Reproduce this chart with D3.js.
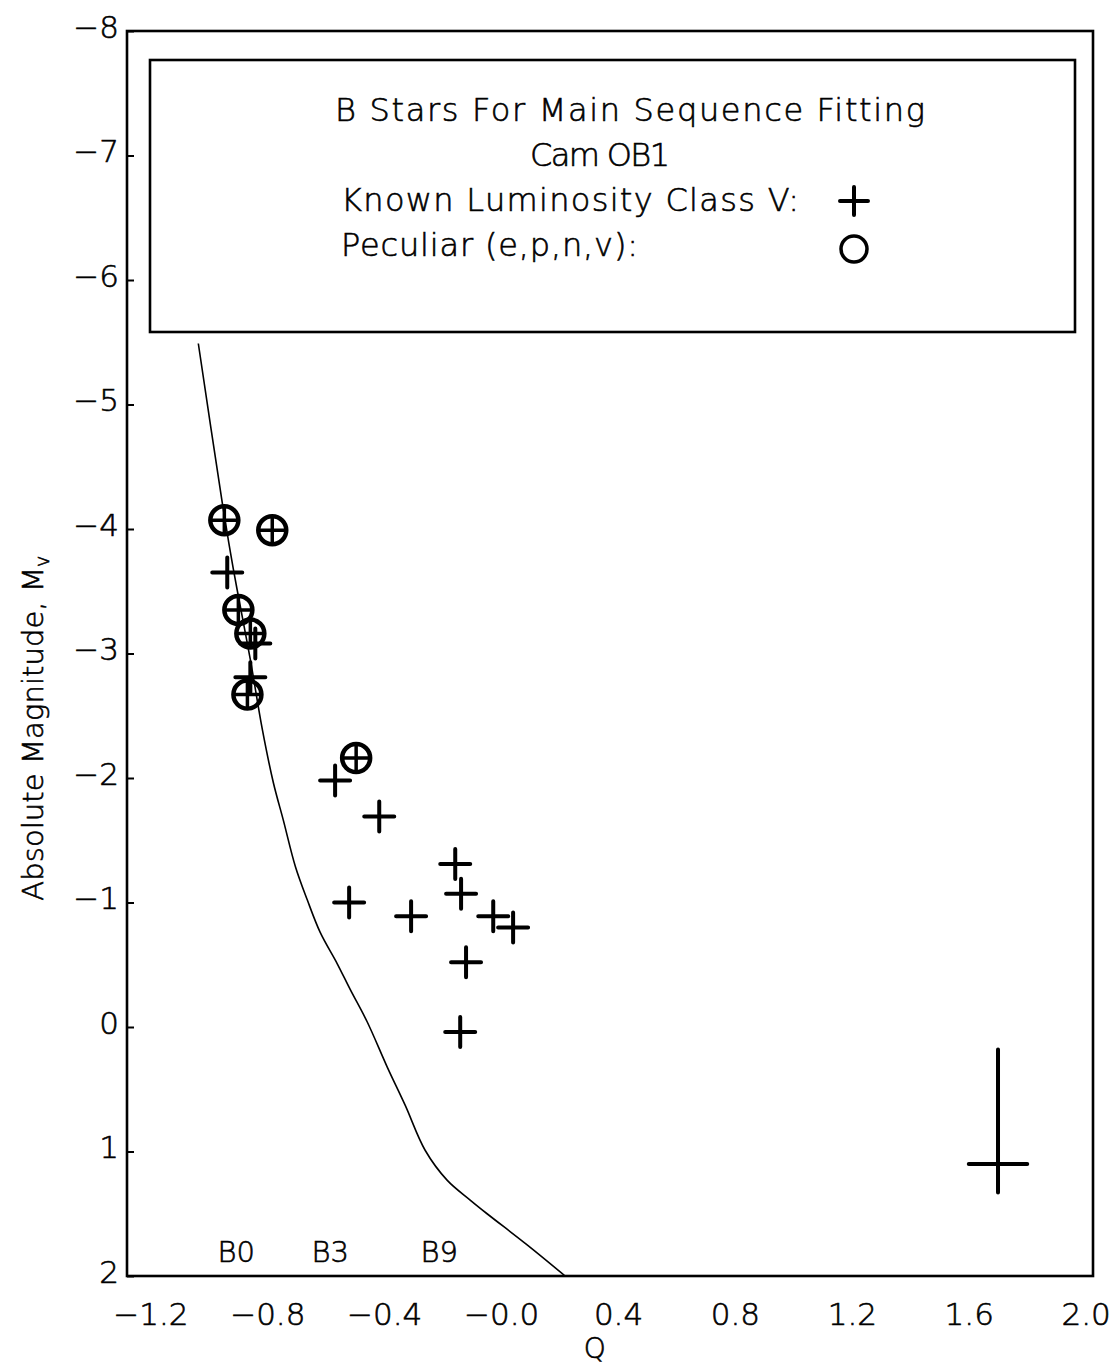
<!DOCTYPE html>
<html>
<head>
<meta charset="utf-8">
<script src="https://cdn.jsdelivr.net/npm/d3@7/dist/d3.min.js"></script>
<style>
  html, body { margin: 0; padding: 0; background: #fff; }
  svg { display: block; }
  text { font-family: "DejaVu Sans", "Open Sans", sans-serif; font-weight: 200; fill: #000; stroke: #000; stroke-width: 0.6px; }
</style>
</head>
<body>
<svg id="chart" width="1114" height="1364"></svg>
<script>
// Q index (x) and absolute magnitude M_V (y) for B stars in Cam OB1
const classVQ = [-0.937, -0.841, -0.858, -0.568, -0.417, -0.157, -0.137, -0.520, -0.308, -0.027, 0.041, -0.120, -0.140];
const classVM = [-3.65, -3.08, -2.81, -1.98, -1.69, -1.31, -1.07, -1.00, -0.89, -0.89, -0.80, -0.52, 0.04];

const peculiarQ = [-0.947, -0.783, -0.899, -0.858, -0.868, -0.496];
const peculiarM = [-4.07, -3.99, -3.35, -3.16, -2.67, -2.16];

// Zero-age main sequence in the (Q, M_V) plane
const zamsQ = [-1.036, -0.954, -0.926, -0.903, -0.858, -0.817, -0.779, -0.745, -0.704, -0.663, -0.619, -0.561, -0.516, -0.458, -0.390, -0.328, -0.260, -0.185, -0.106, -0.048, 0.089, 0.219];
const zamsM = [-5.49, -4.21, -3.81, -3.51, -2.95, -2.39, -1.96, -1.66, -1.29, -1.02, -0.76, -0.51, -0.30, -0.04, 0.32, 0.63, 0.99, 1.23, 1.39, 1.50, 1.75, 2.00];

// Spectral type markers along the bottom
const spTypes = ["B0", "B3", "B9"];
const spTypeQ = [-0.906, -0.585, -0.212];
const spTypeM = [1.8, 1.8, 1.8];

// Typical error bar
const errQ = [1.70];
const errM = [1.10];
const errDQ = [0.10];
const errUp = [0.92];
const errDown = [0.23];

const xTicks = [-1.2, -0.8, -0.4, 0.0, 0.4, 0.8, 1.2, 1.6, 2.0];
const yTicks = [-8, -7, -6, -5, -4, -3, -2, -1, 0, 1, 2];

const legendTitle = ["B Stars For Main Sequence Fitting", "Cam OB1"];
const legendItems = ["Known Luminosity Class V:", "Peculiar (e,p,n,v):"];

const svg = d3.select("#chart");
const plotLeft = 127, plotRight = 1093, plotTop = 31, plotBottom = 1276;

const x = d3.scaleLinear().domain([-1.28, 2.025]).range([plotLeft, plotRight]);
const y = d3.scaleLinear().domain([-8, 2]).range([plotTop, plotBottom]);

const fmtX = v => (v <= 0 ? "\u2212" : "") + Math.abs(v).toFixed(1);
const fmtY = v => (v < 0 ? "\u2212" : "") + Math.abs(v);

// Axes
const yAxis = svg.append("g")
  .attr("transform", `translate(${plotLeft},0)`)
  .call(d3.axisLeft(y).tickValues(yTicks).tickSize(-7).tickPadding(8).tickFormat(fmtY));
yAxis.select(".domain").remove();
yAxis.selectAll("line").attr("stroke", "#000").attr("stroke-width", 2);
yAxis.selectAll("text").attr("font-size", 31).attr("dy", "0.2em");

const xAxis = svg.append("g")
  .attr("transform", `translate(0,${plotBottom})`)
  .call(d3.axisBottom(x).tickValues(xTicks).tickSize(0).tickPadding(27).tickFormat(fmtX));
xAxis.select(".domain").remove();
xAxis.selectAll("text").attr("font-size", 31);

// Plot frame
svg.append("rect")
  .attr("x", plotLeft).attr("y", plotTop)
  .attr("width", plotRight - plotLeft).attr("height", plotBottom - plotTop)
  .attr("fill", "none").attr("stroke", "#000").attr("stroke-width", 2.6);

// Axis titles
svg.append("text")
  .attr("x", x(0.32)).attr("y", 1358)
  .attr("text-anchor", "middle").attr("font-size", 28).text("Q");

const yt = svg.append("text")
  .attr("transform", `translate(43,${y(-2.4)}) rotate(-90)`)
  .attr("text-anchor", "middle").attr("font-size", 29)
  .attr("textLength", 345).attr("lengthAdjust", "spacing");
yt.append("tspan").text("Absolute Magnitude, M");
yt.append("tspan").attr("font-size", 19).attr("dy", 6).text("v");

// Main sequence curve
const curve = zamsQ.map((q, i) => [q, zamsM[i]]);
svg.append("path")
  .datum(curve)
  .attr("fill", "none").attr("stroke", "#000").attr("stroke-width", 1.6)
  .attr("d", d3.line().x(d => x(d[0])).y(d => y(d[1])).curve(d3.curveCatmullRom));

// Spectral type labels
svg.selectAll("text.sp").data(spTypes).join("text")
  .attr("class", "sp")
  .attr("x", (d, i) => x(spTypeQ[i])).attr("y", (d, i) => y(spTypeM[i]) + 11)
  .attr("text-anchor", "middle").attr("font-size", 29).text(d => d);

// Marker helpers
const arm = 15;
function plus(g, cx, cy, h) {
  g.append("path")
    .attr("d", `M${cx - h},${cy}H${cx + h}M${cx},${cy - h}V${cy + h}`)
    .attr("stroke", "#000").attr("stroke-width", 4).attr("stroke-linecap", "round").attr("fill", "none");
}
function ring(g, cx, cy, r, w) {
  g.append("circle").attr("cx", cx).attr("cy", cy).attr("r", r)
    .attr("fill", "none").attr("stroke", "#000").attr("stroke-width", w);
}

const marks = svg.append("g");
// Peculiar stars: circle with cross
peculiarQ.forEach((q, i) => {
  const cx = x(q), cy = y(peculiarM[i]);
  ring(marks, cx, cy, 14, 4.5);
  marks.append("path")
    .attr("d", `M${cx - 14},${cy}H${cx + 14}M${cx},${cy - 14}V${cy + 14}`)
    .attr("stroke", "#000").attr("stroke-width", 3.5).attr("fill", "none");
});
// Luminosity class V stars: plus
classVQ.forEach((q, i) => plus(marks, x(q), y(classVM[i]), arm));

// Error bar
errQ.forEach((q, i) => {
  const cx = x(q), cy = y(errM[i]);
  marks.append("path")
    .attr("d", `M${x(q - errDQ[i])},${cy}H${x(q + errDQ[i])}M${cx},${y(errM[i] - errUp[i])}V${y(errM[i] + errDown[i])}`)
    .attr("stroke", "#000").attr("stroke-width", 4).attr("stroke-linecap", "round").attr("fill", "none");
});

// Legend box
const lg = svg.append("g");
lg.append("rect")
  .attr("x", 150).attr("y", 60).attr("width", 925).attr("height", 272)
  .attr("fill", "#fff").attr("stroke", "#000").attr("stroke-width", 2.6);
lg.append("text").attr("x", 335).attr("y", 121)
  .attr("font-size", 32).attr("textLength", 590).attr("lengthAdjust", "spacing").text(legendTitle[0]);
lg.append("text").attr("x", 530).attr("y", 166)
  .attr("font-size", 32).attr("textLength", 140).attr("lengthAdjust", "spacing").text(legendTitle[1]);
const itemLen = [458, 297];
lg.selectAll("text.item").data(legendItems).join("text")
  .attr("class", "item")
  .attr("x", 341).attr("y", (d, i) => 211 + i * 45)
  .attr("font-size", 32)
  .attr("textLength", (d, i) => itemLen[i]).attr("lengthAdjust", "spacing")
  .text(d => d);
plus(lg, 854, 201, 14);
ring(lg, 854, 249, 13, 3.5);
</script>
</body>
</html>
